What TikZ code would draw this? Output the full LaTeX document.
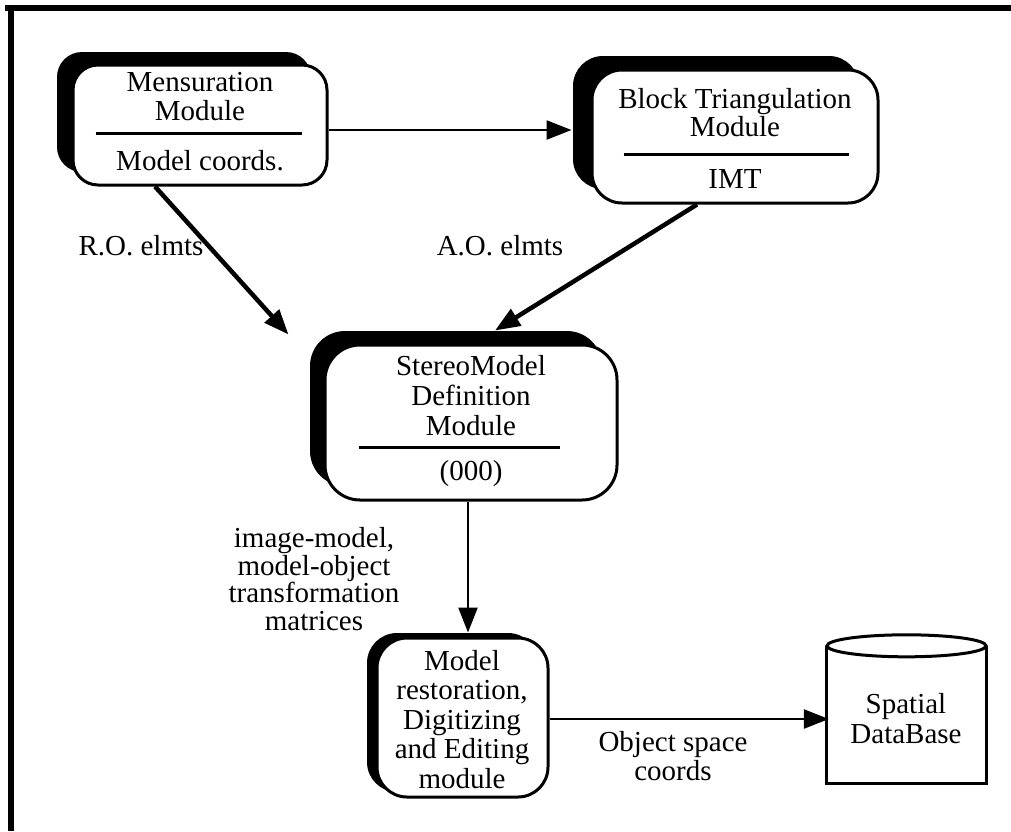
\documentclass[tikz,border=0pt]{standalone}
\usepackage{fontspec}
\setmainfont{Liberation Serif}
\usetikzlibrary{shadows,arrows.meta,calc}
\begin{document}
\begin{tikzpicture}[x=1pt,y=-1pt,
  modbox/.style={draw, line width=3pt, fill=white, inner sep=0pt},
  blackshadow/.style 2 args={drop shadow={shadow xshift=#1, shadow yshift=#2, fill=black, opacity=1}},
  txt/.style={font=\fontsize{29pt}{28.5pt}\selectfont, align=center, inner sep=0pt, anchor=base},
  arr/.style={-{Triangle[length=25pt,width=19pt]}},
  divider/.style={line width=3pt},
  frameline/.style={line width=6pt}
]
\useasboundingbox (0,0) rectangle (1011,831);
% frame (top and left only)
\draw[frameline] (5,8) -- (1011,8);
\draw[frameline] (11,5) -- (11,831);

% boxes
\node[modbox, rounded corners=25pt, minimum width=254pt, minimum height=120pt, blackshadow={-16pt}{13pt}] (m) at (200,125) {};
\node[modbox, rounded corners=30pt, minimum width=286pt, minimum height=133pt, blackshadow={-19pt}{14pt}] (b) at (735,136.5) {};
\node[modbox, rounded corners=35pt, minimum width=292pt, minimum height=155pt, blackshadow={-15pt}{14pt}] (s) at (471,422.5) {};
\node[modbox, rounded corners=30pt, minimum width=171pt, minimum height=159pt, blackshadow={-10pt}{5pt}] (r) at (462.5,717.5) {};

% box texts (base anchor = baseline of last line)
\node[txt] (mt) at (200,120) {Mensuration\\Module};
\node[txt] (mb) at (200,170) {Model coords.};
\draw[divider] ($(m.west)+(24,8)$) -- ($(m.east)+(-27,8)$);

\node[txt, font=\fontsize{29pt}{26pt}\selectfont] (bt) at (735,136) {Block Triangulation\\Module};
\node[txt] (bb) at (735,188) {IMT};
\draw[divider] ($(b.west)+(33,17.5)$) -- ($(b.east)+(-31,17.5)$);

\node[txt, font=\fontsize{29pt}{30pt}\selectfont] (st) at (471,435) {StereoModel\\Definition\\Module};
\node[txt] (sb) at (471,480) {(000)};
\draw[divider] ($(s.west)+(35,24.5)$) -- ($(s.east)+(-59,24.5)$);

\node[txt, font=\fontsize{29pt}{29.5pt}\selectfont] (rt) at (462,788) {Model\\restoration,\\Digitizing\\and Editing\\module};

% database cylinder
\node[inner sep=0pt, minimum width=159pt, minimum height=137pt] (db) at (906.5,714.5) {};
\draw[line width=3pt] (db.north west) -- (db.south west) -- (db.south east) -- (db.north east);
\draw[line width=3pt] (db.north) ellipse [x radius=79.5, y radius=11];
\node[txt, font=\fontsize{29pt}{30pt}\selectfont] (dbt) at (906,743) {Spatial\\DataBase};

% connectors
\draw[arr, line width=2.5pt] ($(m.east)+(0,5)$) -- ($(b.west |- m.east)+(-19,5)$);
\draw[arr, line width=4.5pt] ($(m.south)+(-45,0)$) -- ($(s.north west)+(-35,-9)$);
\draw[arr, line width=4.5pt] ($(b.south)+(-38,0)$) -- ($(s.north)+(24,-13)$);
\draw[arr, line width=2.5pt] ($(s.south)+(-3,0)$) -- ($(r.north)+(5.5,-4)$);
\draw[arr, line width=2.5pt] ($(r.east)+(0,1.5)$) -- ($(db.west |- r.east)+(2,1.5)$);

% connector labels
\node[txt] (lro) at (141,255) {R.O. elmts};
\node[txt] (lao) at (500,255) {A.O. elmts};
\node[txt, font=\fontsize{29pt}{27.5pt}\selectfont] (ltm) at (314,630) {image-model,\\model-object\\transformation\\matrices};
\node[txt] (los) at (673,780) {Object space\\coords};
\end{tikzpicture}
\end{document}
